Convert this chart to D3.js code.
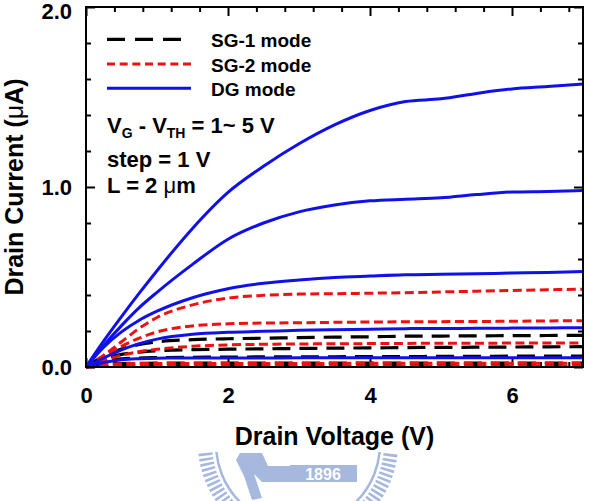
<!DOCTYPE html>
<html>
<head>
<meta charset="utf-8">
<script src="https://cdn.jsdelivr.net/npm/d3@7"></script>
<style>
  body { margin: 0; background: #fff; }
  svg { display: block; }
  text { font-family: "Liberation Sans", Arial, Helvetica, sans-serif; font-weight: bold; }
</style>
</head>
<body>
<div id="chart"></div>
<script>
// drain voltage sample points (V)
const vds = [0, 0.25, 0.5, 0.75, 1, 1.5, 2, 2.5, 3, 3.5, 4, 4.5, 5, 5.5, 6, 6.5, 7];

// DG mode, VG - VTH = 5..1 V (uA)
const dgCurves = [
    [0, 0.145, 0.28, 0.41, 0.535, 0.77, 0.97, 1.115, 1.24, 1.345, 1.425, 1.475, 1.49, 1.52, 1.545, 1.558, 1.572],
    [0, 0.12, 0.23, 0.33, 0.415, 0.57, 0.71, 0.80, 0.862, 0.90, 0.923, 0.932, 0.94, 0.958, 0.972, 0.975, 0.98],
    [0, 0.11, 0.195, 0.26, 0.31, 0.385, 0.435, 0.465, 0.483, 0.497, 0.505, 0.512, 0.515, 0.518, 0.522, 0.525, 0.53],
    [0, 0.05, 0.095, 0.13, 0.155, 0.182, 0.193, 0.198, 0.204, 0.207, 0.21, 0.213, 0.214, 0.215, 0.216, 0.217, 0.218],
    [0, 0.025, 0.04, 0.046, 0.049, 0.05, 0.05, 0.05, 0.051, 0.051, 0.051, 0.051, 0.052, 0.052, 0.052, 0.052, 0.052]
];

// SG-2 mode
const sg2Curves = [
    [0, 0.065, 0.14, 0.215, 0.275, 0.345, 0.383, 0.398, 0.405, 0.407, 0.41, 0.413, 0.417, 0.421, 0.425, 0.429, 0.432],
    [0, 0.06, 0.115, 0.16, 0.195, 0.228, 0.24, 0.244, 0.246, 0.248, 0.25, 0.251, 0.252, 0.253, 0.254, 0.256, 0.257],
    [0, 0.035, 0.065, 0.085, 0.098, 0.115, 0.123, 0.126, 0.128, 0.129, 0.13, 0.131, 0.132, 0.132, 0.133, 0.133, 0.133],
    [0, 0.012, 0.018, 0.02, 0.02, 0.02, 0.02, 0.02, 0.02, 0.02, 0.021, 0.021, 0.021, 0.021, 0.021, 0.021, 0.021],
    [0, 0.004, 0.005, 0.005, 0.005, 0.005, 0.005, 0.005, 0.005, 0.005, 0.005, 0.005, 0.005, 0.005, 0.005, 0.005, 0.005]
];

// SG-1 mode
const sg1Curves = [
    [0, 0.06, 0.1, 0.125, 0.14, 0.152, 0.157, 0.16, 0.163, 0.166, 0.168, 0.171, 0.172, 0.173, 0.174, 0.175, 0.176],
    [0, 0.045, 0.07, 0.083, 0.09, 0.096, 0.099, 0.101, 0.103, 0.105, 0.106, 0.108, 0.109, 0.11, 0.111, 0.112, 0.113],
    [0, 0.03, 0.045, 0.05, 0.052, 0.054, 0.055, 0.056, 0.057, 0.057, 0.058, 0.058, 0.059, 0.059, 0.06, 0.06, 0.06],
    [0, 0.014, 0.019, 0.02, 0.021, 0.021, 0.021, 0.022, 0.022, 0.022, 0.022, 0.022, 0.022, 0.022, 0.022, 0.022, 0.022],
    [0, 0.005, 0.006, 0.006, 0.006, 0.006, 0.006, 0.006, 0.006, 0.006, 0.006, 0.006, 0.006, 0.006, 0.006, 0.006, 0.006]
];

const xMajor = [0, 2, 4, 6];
const yMajor = [0, 1, 2];

const width = 590, height = 501;
const margin = {left: 86, top: 7, right: 7, bottom: 134};
const w = width - margin.left - margin.right;
const h = height - margin.top - margin.bottom;

const svg = d3.select("#chart").append("svg")
    .attr("width", width)
    .attr("height", height);

// faint seal watermark below the chart
const wmColor = "#a6b8de";
const wm = svg.append("g");
wm.append("clipPath").attr("id", "wmclip")
    .append("rect").attr("x", 0).attr("y", 452).attr("width", width).attr("height", 60);
const seal = wm.append("g").attr("clip-path", "url(#wmclip)").attr("fill", wmColor);
seal.append("circle")
    .attr("cx", 298).attr("cy", 444).attr("r", 93)
    .attr("fill", "none").attr("stroke", wmColor).attr("stroke-width", 14)
    .attr("stroke-dasharray", "2.6,2.4");
seal.append("circle")
    .attr("cx", 298).attr("cy", 444).attr("r", 82)
    .attr("fill", "none").attr("stroke", wmColor).attr("stroke-width", 2.5);
seal.append("path")
    .attr("d", "M240,453 L262,453 L268,466 L290,466 L290,482 L262,482 L254,474 L262,498 L252,500 L244,476 L236,460 Z");
seal.append("rect").attr("x", 290).attr("y", 465).attr("width", 67).attr("height", 17);
seal.append("text")
    .attr("x", 323).attr("y", 479.5)
    .attr("text-anchor", "middle")
    .attr("fill", "#fff")
    .style("font-size", "16px")
    .text("1896");

const g = svg.append("g")
    .attr("transform", `translate(${margin.left},${margin.top})`);

const x = d3.scaleLinear().domain([0, 7]).range([0, w]);
const y = d3.scaleLinear().domain([0, 2]).range([h, 0]);

const xMinor = d3.range(0, 7.01, 0.4).filter(v => !xMajor.some(m => Math.abs(m - v) < 1e-6));
const yMinor = d3.range(0, 2.01, 0.2).filter(v => !yMajor.some(m => Math.abs(m - v) < 1e-6));

function styleAxis(sel) {
    sel.select(".domain").remove();
    sel.selectAll("line").attr("stroke", "#000").attr("stroke-width", 2);
    sel.selectAll("text").attr("fill", "#000").style("font-size", "22px");
}

// bottom axis
g.append("g").attr("transform", `translate(0,${h})`)
    .call(d3.axisBottom(x).tickValues(xMajor).tickSize(-9).tickPadding(20).tickFormat(d3.format("d")))
    .call(styleAxis);
g.append("g").attr("transform", `translate(0,${h})`)
    .call(d3.axisBottom(x).tickValues(xMinor).tickSize(-5).tickFormat(""))
    .call(styleAxis);
// top axis
g.append("g")
    .call(d3.axisTop(x).tickValues(xMajor).tickSize(-9).tickFormat(""))
    .call(styleAxis);
g.append("g")
    .call(d3.axisTop(x).tickValues(xMinor).tickSize(-5).tickFormat(""))
    .call(styleAxis);
// left axis
const yAxisG = g.append("g")
    .call(d3.axisLeft(y).tickValues(yMajor).tickSize(-9).tickPadding(14).tickFormat(d3.format(".1f")))
    .call(styleAxis);
// top label sits a little lower so it stays inside the picture
yAxisG.selectAll(".tick text").filter(d => d === 2).attr("dy", "0.5em");
g.append("g")
    .call(d3.axisLeft(y).tickValues(yMinor).tickSize(-5).tickFormat(""))
    .call(styleAxis);
// right axis
g.append("g").attr("transform", `translate(${w},0)`)
    .call(d3.axisRight(y).tickValues(yMajor).tickSize(-9).tickFormat(""))
    .call(styleAxis);
g.append("g").attr("transform", `translate(${w},0)`)
    .call(d3.axisRight(y).tickValues(yMinor).tickSize(-5).tickFormat(""))
    .call(styleAxis);

const line = d3.line()
    .x((d, i) => x(vds[i]))
    .y(d => y(d))
    .curve(d3.curveMonotoneX);

const plot = g.append("g");

plot.selectAll(".sg1")
    .data(sg1Curves)
    .enter().append("path")
    .attr("class", "sg1")
    .attr("fill", "none")
    .attr("stroke", "#000")
    .attr("stroke-width", 3.2)
    .attr("stroke-dasharray", "18,9")
    .attr("d", line);

plot.selectAll(".sg2")
    .data(sg2Curves)
    .enter().append("path")
    .attr("class", "sg2")
    .attr("fill", "none")
    .attr("stroke", "#f01010")
    .attr("stroke-width", 3)
    .attr("stroke-dasharray", "9,4.5")
    .attr("d", line);

plot.selectAll(".dg")
    .data(dgCurves)
    .enter().append("path")
    .attr("class", "dg")
    .attr("fill", "none")
    .attr("stroke", "#1010e8")
    .attr("stroke-width", 3)
    .attr("d", line);

// frame
g.append("rect")
    .attr("width", w)
    .attr("height", h)
    .attr("fill", "none")
    .attr("stroke", "#000")
    .attr("stroke-width", 2);

// legend
const legendItems = [
    {label: "SG-1 mode", color: "#000", dash: "18,10", width: 3.2, y: 32.3},
    {label: "SG-2 mode", color: "#f01010", dash: "8,4.67", width: 3, y: 57},
    {label: "DG mode", color: "#1010e8", dash: null, width: 3, y: 81.3}
];
const legend = g.append("g").attr("transform", "translate(21,0)");
legend.selectAll("line")
    .data(legendItems)
    .enter().append("line")
    .attr("x1", 0).attr("x2", 84)
    .attr("y1", d => d.y).attr("y2", d => d.y)
    .attr("stroke", d => d.color)
    .attr("stroke-width", d => d.width)
    .attr("stroke-dasharray", d => d.dash);
legend.selectAll("text")
    .data(legendItems)
    .enter().append("text")
    .attr("x", 104)
    .attr("y", d => d.y + 1.5)
    .attr("dy", "0.35em")
    .style("font-size", "19px")
    .text(d => d.label);

// annotation
const note = g.append("g").attr("transform", "translate(21,0)").style("font-size", "22px");
const t1 = note.append("text").attr("y", 126.3);
t1.append("tspan").text("V");
t1.append("tspan").attr("dy", 5).style("font-size", "14px").text("G");
t1.append("tspan").attr("dy", -5).text(" - V");
t1.append("tspan").attr("dy", 5).style("font-size", "14px").text("TH");
t1.append("tspan").attr("dy", -5).text(" = 1~ 5 V");
note.append("text").attr("y", 159.7).text("step = 1 V");
const t3 = note.append("text").attr("y", 186.3);
t3.append("tspan").text("L = 2 ");
t3.append("tspan").style("font-weight", "normal").text("\u03bc");
t3.append("tspan").text("m");

// axis titles
svg.append("text")
    .attr("x", margin.left + w / 2)
    .attr("y", 445)
    .attr("text-anchor", "middle")
    .style("font-size", "25px")
    .text("Drain Voltage (V)");

const yt = svg.append("text")
    .attr("transform", `translate(23,${margin.top + h / 2}) rotate(-90)`)
    .attr("text-anchor", "middle")
    .style("font-size", "25px");
yt.append("tspan").text("Drain Current (");
yt.append("tspan").style("font-weight", "normal").text("\u03bc");
yt.append("tspan").text("A)");
</script>
</body>
</html>
